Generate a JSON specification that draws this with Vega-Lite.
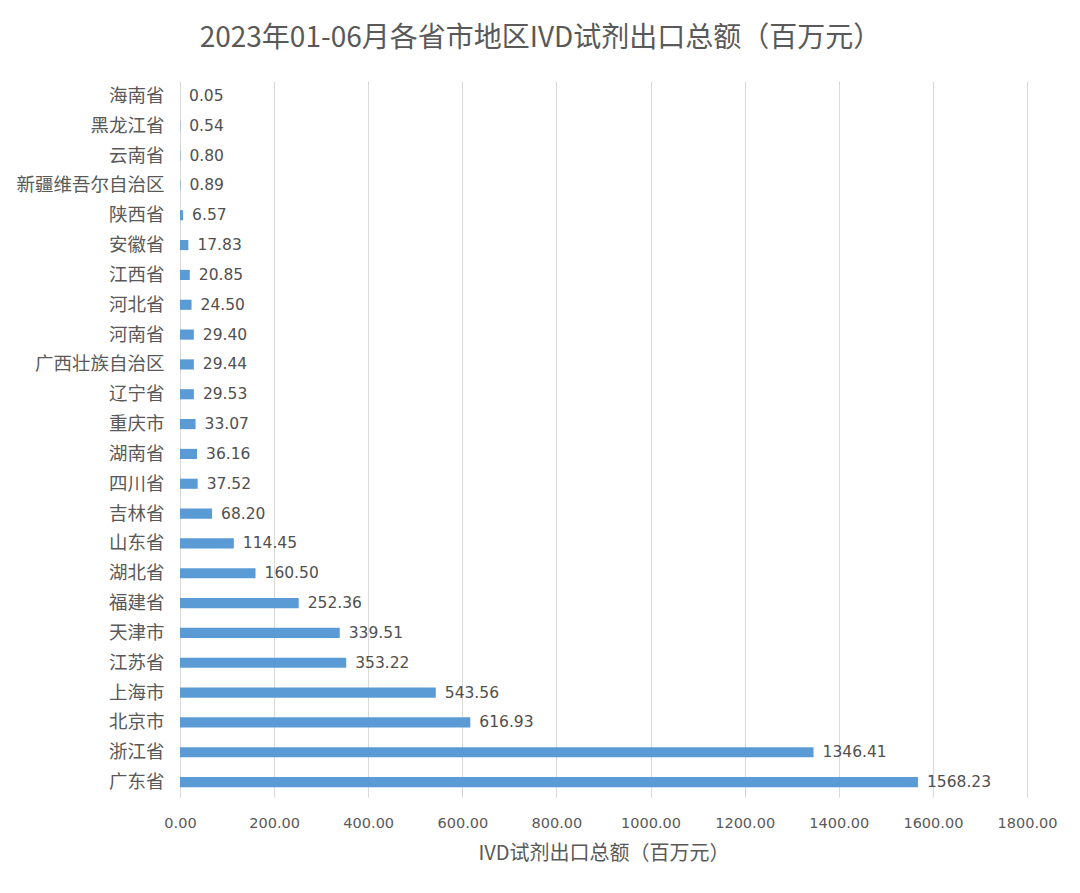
{
  "$schema": "https://vega.github.io/schema/vega-lite/v6.json",
  "autosize": {"type": "none"},
  "width": 847,
  "height": 716,
  "padding": {"left": 180, "top": 81, "right": 53, "bottom": 96},
  "background": "white",
  "title": {
    "text": "2023年01-06月各省市地区IVD试剂出口总额（百万元）",
    "font": "Noto Sans CJK SC",
    "fontSize": 28,
    "fontWeight": "normal",
    "color": "#595959",
    "anchor": "middle",
    "dx": -63,
    "offset": 28
  },
  "data": {
    "values": [
      {"region": "海南省", "value": 0.05},
      {"region": "黑龙江省", "value": 0.54},
      {"region": "云南省", "value": 0.80},
      {"region": "新疆维吾尔自治区", "value": 0.89},
      {"region": "陕西省", "value": 6.57},
      {"region": "安徽省", "value": 17.83},
      {"region": "江西省", "value": 20.85},
      {"region": "河北省", "value": 24.50},
      {"region": "河南省", "value": 29.40},
      {"region": "广西壮族自治区", "value": 29.44},
      {"region": "辽宁省", "value": 29.53},
      {"region": "重庆市", "value": 33.07},
      {"region": "湖南省", "value": 36.16},
      {"region": "四川省", "value": 37.52},
      {"region": "吉林省", "value": 68.20},
      {"region": "山东省", "value": 114.45},
      {"region": "湖北省", "value": 160.50},
      {"region": "福建省", "value": 252.36},
      {"region": "天津市", "value": 339.51},
      {"region": "江苏省", "value": 353.22},
      {"region": "上海市", "value": 543.56},
      {"region": "北京市", "value": 616.93},
      {"region": "浙江省", "value": 1346.41},
      {"region": "广东省", "value": 1568.23}
    ]
  },
  "encoding": {
    "y": {
      "field": "region",
      "type": "nominal",
      "sort": null,
      "scale": {"paddingInner": 0.66, "paddingOuter": 0.33},
      "axis": {
        "title": null,
        "domain": false,
        "ticks": false,
        "labelFont": "Noto Sans CJK SC",
        "labelFontSize": 18.5,
        "labelColor": "#595959",
        "labelPadding": 16
      }
    },
    "x": {
      "field": "value",
      "type": "quantitative",
      "scale": {"domain": [0, 1800], "nice": false},
      "axis": {
        "values": [0, 200, 400, 600, 800, 1000, 1200, 1400, 1600, 1800],
        "format": ".2f",
        "labelFlush": false,
        "title": "IVD试剂出口总额（百万元）",
        "titleFont": "Noto Sans CJK SC",
        "titleFontSize": 20,
        "titleFontWeight": "normal",
        "titleColor": "#595959",
        "titlePadding": 14,
        "labelFont": "DejaVu Sans",
        "labelFontSize": 14.5,
        "labelColor": "#595959",
        "labelPadding": 19,
        "domain": false,
        "ticks": false,
        "grid": true,
        "gridColor": "#D9D9D9",
        "gridWidth": 1
      }
    }
  },
  "layer": [
    {"mark": {"type": "bar", "color": "#5B9BD5"}},
    {
      "mark": {
        "type": "text",
        "align": "left",
        "baseline": "middle",
        "dx": 9,
        "font": "DejaVu Sans",
        "fontSize": 15.5,
        "color": "#505050"
      },
      "encoding": {"text": {"field": "value", "type": "quantitative", "format": ".2f"}}
    }
  ],
  "config": {"view": {"stroke": null}}
}
